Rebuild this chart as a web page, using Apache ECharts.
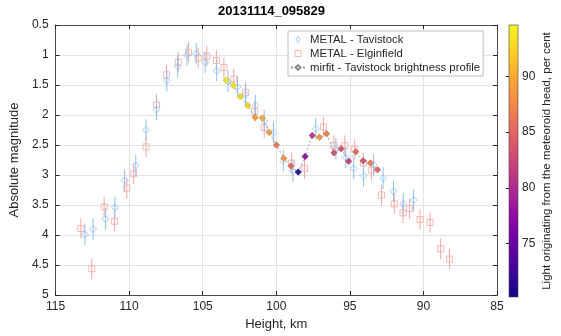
<!DOCTYPE html>
<html>
<head>
<meta charset="utf-8">
<script src="https://cdn.jsdelivr.net/npm/echarts@6/dist/echarts.min.js"></script>
<style>
  html, body { margin: 0; padding: 0; background: #fff; }
  #chart { width: 561px; height: 336px; }
</style>
</head>
<body>
<div id="chart"></div>
<script>
// ---- data ----
const chartTitle = '20131114_095829';

// METAL, Tavistock station: height (km) and absolute magnitude
const tavHeight = [113.0, 112.45, 111.6, 110.97, 110.31, 109.55, 108.85, 108.14, 107.44, 106.7, 106.07, 105.44, 104.84, 104.05, 103.28, 102.64, 102.1, 101.42, 100.82, 100.19, 99.52, 98.87, 97.32, 95.95, 95.28, 94.74, 94.07, 93.39, 92.74, 92.03, 91.37, 90.67];
const tavMag    = [3.99, 3.9, 3.73, 3.54, 3.09, 2.84, 2.25, 1.91, 1.43, 1.19, 1.0, 0.98, 1.12, 1.26, 1.44, 1.53, 1.66, 1.84, 2.1, 2.29, 2.76, 2.94, 2.23, 2.56, 2.71, 2.89, 3.01, 2.83, 3.05, 3.27, 3.48, 3.42];
const tavErr = 0.18;

// METAL, Elginfield station
const elgHeight = [113.28, 112.54, 111.7, 110.99, 110.16, 109.69, 108.85, 108.14, 107.46, 106.66, 105.96, 105.31, 104.72, 104.07, 103.56, 102.89, 102.08, 101.47, 100.82, 98.96, 98.08, 96.8, 96.08, 95.34, 94.67, 94.08, 93.54, 92.85, 91.98, 91.39, 90.94, 90.23, 89.55, 88.83, 88.23];
const elgMag    = [3.89, 4.56, 3.53, 3.77, 3.22, 2.98, 2.53, 1.83, 1.33, 1.12, 0.955, 1.05, 1.02, 1.09, 1.21, 1.40, 1.62, 1.94, 2.21, 2.80, 2.89, 2.20, 2.51, 2.51, 2.57, 2.80, 2.92, 3.33, 3.48, 3.63, 3.56, 3.74, 3.79, 4.23, 4.40];
const elgErr = 0.17;

// mirfit brightness profile (Tavistock) with share of light from the meteoroid head, %
const mirHeight = [103.40, 102.91, 102.45, 101.94, 101.44, 100.95, 100.48, 99.99, 99.49, 99.0, 98.51, 98.04, 97.56, 97.07, 96.58, 96.08, 95.59, 95.09, 94.60, 94.10, 93.61, 93.12];
const mirMag    = [1.42, 1.51, 1.69, 1.84, 2.04, 2.05, 2.29, 2.50, 2.72, 2.85, 2.95, 2.69, 2.34, 2.37, 2.31, 2.63, 2.56, 2.77, 2.61, 2.76, 2.80, 2.91];
const mirHead   = [94.2, 94.0, 93.6, 92.6, 89.3, 90.2, 89.4, 86.0, 88.6, 85.3, 71.0, 77.5, 80.8, 88.6, 87.0, 83.2, 83.5, 81.8, 85.2, 83.4, 86.8, 85.0];
const mirErr = 0.045;

// axes
const heightRange = [85, 115];
const heightStep = 5;
const magRange = [0.5, 5];
const magStep = 0.5;
const headRange = [70.2, 94.6];
const headTicks = [75, 80, 85, 90];

// plasma colour map
const plasma = ['#0d0887', '#41049d', '#6a00a8', '#8f0da4', '#b12a90', '#cc4778', '#e16462', '#f2844b', '#fca636', '#fcce25', '#f0f921'];

// ---- helpers ----
const FONT = '"Liberation Sans", Arial, Helvetica, sans-serif';
const INK = '#262626';
const BLUE = '#8fc0f2';
const PINK = '#f2a7a1';
const CLEAR = 'rgba(255,255,255,0)';

function pairs(xs, ys, extra) {
  return xs.map((x, i) => extra ? [x, ys[i]].concat(extra(i)) : [x, ys[i]]);
}

function errorBar(params, api) {
  const x = api.value(0), y = api.value(1), e = api.value(3);
  const a = api.coord([x, y - e]);
  const b = api.coord([x, y + e]);
  return {
    type: 'line',
    shape: { x1: a[0], y1: a[1], x2: b[0], y2: b[1] },
    style: { stroke: api.visual('color'), lineWidth: 1 }
  };
}

function colorBar(params, api) {
  const top = api.coord([0, api.value(2)]);
  const bot = api.coord([1, api.value(1)]);
  const stops = plasma.map((c, i) => ({ offset: 1 - i / (plasma.length - 1), color: c }));
  return {
    type: 'rect',
    shape: { x: top[0], y: top[1], width: bot[0] - top[0], height: bot[1] - top[1] },
    style: { fill: new echarts.graphic.LinearGradient(0, 0, 0, 1, stops), stroke: '#444', lineWidth: 0.6 }
  };
}

const chart = echarts.init(document.getElementById('chart'), null, { renderer: 'canvas' });

const axisText = { color: INK, fontFamily: FONT };

const option = {
  backgroundColor: '#fff',
  animation: false,
  textStyle: { fontFamily: FONT },
  title: {
    text: chartTitle,
    left: 218,
    top: 0,
    padding: [5, 0, 0, 0],
    textStyle: { fontSize: 13, fontWeight: 'bold', color: '#000', fontFamily: FONT }
  },
  legend: {
    data: [
      { name: 'METAL - Tavistock', icon: 'path://M4,0L8,6L4,12L0,6Z',
        itemStyle: { color: CLEAR, borderColor: BLUE, borderWidth: 1 } },
      { name: 'METAL - Elginfield', icon: 'path://M0,0L10,0L10,10L0,10Z',
        itemStyle: { color: CLEAR, borderColor: PINK, borderWidth: 1 } },
      { name: 'mirfit - Tavistock brightness profile' }
    ],
    orient: 'vertical',
    left: 288,
    top: 31,
    itemWidth: 14,
    itemHeight: 6,
    itemGap: 3,
    symbolKeepAspect: true,
    padding: [3, 3, 3, 2],
    backgroundColor: '#fff',
    borderColor: '#b0b0b0',
    borderWidth: 0.8,
    textStyle: { fontSize: 11.3, color: INK, fontFamily: FONT }
  },
  grid: [
    { left: 51, top: 25, width: 446, height: 272, containLabel: false },
    { left: 509, top: 25, width: 9, height: 272, containLabel: false }
  ],
  visualMap: {
    type: 'continuous',
    show: false,
    min: headRange[0],
    max: headRange[1],
    dimension: 2,
    seriesIndex: [5, 6],
    inRange: { color: plasma }
  },
  xAxis: [
    {
      gridIndex: 0, type: 'value', inverse: true, position: 'bottom',
      min: heightRange[0], max: heightRange[1], interval: heightStep,
      axisLine: { show: true, lineStyle: { color: INK, width: 0.8 } },
      axisTick: { inside: true, length: 4, lineStyle: { color: INK } },
      axisLabel: Object.assign({ fontSize: 12, margin: 6 }, axisText),
      splitLine: { show: true, lineStyle: { color: '#e3e3e3', width: 1 } },
      name: 'Height, km', nameLocation: 'middle', nameGap: 21,
      nameTextStyle: Object.assign({ fontSize: 13 }, axisText)
    },
    {
      gridIndex: 0, type: 'value', inverse: true, position: 'top',
      min: heightRange[0], max: heightRange[1], interval: heightStep,
      axisLine: { show: true, lineStyle: { color: INK, width: 0.8 } },
      axisTick: { inside: true, length: 4, lineStyle: { color: INK } },
      axisLabel: { show: false },
      splitLine: { show: false }
    },
    { gridIndex: 1, type: 'value', min: 0, max: 1, show: false }
  ],
  yAxis: [
    {
      gridIndex: 0, type: 'value', inverse: true, position: 'left',
      min: magRange[0], max: magRange[1], interval: magStep,
      axisLine: { show: true, lineStyle: { color: INK, width: 0.8 } },
      axisTick: { inside: true, length: 4, lineStyle: { color: INK } },
      axisLabel: Object.assign({ fontSize: 12, margin: 7 }, axisText),
      splitLine: { show: true, lineStyle: { color: '#e3e3e3', width: 1 } },
      name: 'Absolute magnitude', nameLocation: 'middle', nameGap: 30,
      nameTextStyle: Object.assign({ fontSize: 13 }, axisText)
    },
    {
      gridIndex: 0, type: 'value', inverse: true, position: 'right',
      min: magRange[0], max: magRange[1], interval: magStep,
      axisLine: { show: true, lineStyle: { color: INK, width: 0.8 } },
      axisTick: { inside: true, length: 4, lineStyle: { color: INK } },
      axisLabel: { show: false },
      splitLine: { show: false }
    },
    {
      gridIndex: 1, type: 'value', position: 'right',
      min: headRange[0], max: headRange[1],
      axisLine: { show: false },
      axisTick: { show: true, inside: true, length: 3, customValues: headTicks, lineStyle: { color: INK } },
      axisLabel: Object.assign({ fontSize: 12, margin: 4, customValues: headTicks }, axisText),
      splitLine: { show: false },
      name: 'Light originating from the meteoroid head, per cent',
      nameLocation: 'middle', nameRotate: 90, nameGap: 23,
      nameTextStyle: Object.assign({ fontSize: 11.5 }, axisText)
    }
  ],
  series: [
    {
      name: 'elg-err', type: 'custom', xAxisIndex: 0, yAxisIndex: 0,
      renderItem: errorBar, itemStyle: { color: PINK }, encode: { x: 0, y: 1 },
      data: pairs(elgHeight, elgMag, () => [0, elgErr]), z: 2
    },
    {
      name: 'tav-err', type: 'custom', xAxisIndex: 0, yAxisIndex: 0,
      renderItem: errorBar, itemStyle: { color: BLUE }, encode: { x: 0, y: 1 },
      data: pairs(tavHeight, tavMag, () => [0, tavErr]), z: 3
    },
    {
      name: 'METAL - Elginfield', type: 'scatter', xAxisIndex: 0, yAxisIndex: 0,
      symbol: 'rect', symbolSize: 6,
      itemStyle: { color: CLEAR, borderColor: PINK, borderWidth: 1 },
      data: pairs(elgHeight, elgMag), z: 4
    },
    {
      name: 'METAL - Tavistock', type: 'scatter', xAxisIndex: 0, yAxisIndex: 0,
      symbol: 'diamond', symbolSize: 7,
      itemStyle: { color: CLEAR, borderColor: BLUE, borderWidth: 1 },
      data: pairs(tavHeight, tavMag), z: 5
    },
    {
      name: 'mirfit - Tavistock brightness profile', type: 'line', xAxisIndex: 0, yAxisIndex: 0,
      symbol: 'emptyDiamond', symbolSize: 4, showSymbol: true,
      itemStyle: { color: '#8a8a8a' },
      lineStyle: { color: '#9a9a9a', width: 0.9, type: [2, 2] },
      data: pairs(mirHeight, mirMag), z: 6
    },
    {
      name: 'mirfit-err', type: 'custom', xAxisIndex: 0, yAxisIndex: 0,
      renderItem: errorBar, encode: { x: 0, y: 1 },
      data: pairs(mirHeight, mirMag, i => [mirHead[i], mirErr]), z: 7
    },
    {
      name: 'mirfit-head', type: 'scatter', xAxisIndex: 0, yAxisIndex: 0,
      symbol: 'diamond', symbolSize: 7,
      data: pairs(mirHeight, mirMag, i => [mirHead[i]]), z: 8
    },
    {
      name: 'colorbar', type: 'custom', xAxisIndex: 2, yAxisIndex: 2,
      renderItem: colorBar, encode: { x: 0, y: [1, 2] }, silent: true,
      data: [[0, headRange[0], headRange[1]]], z: 1
    }
  ]
};

chart.setOption(option);
</script>
</body>
</html>
